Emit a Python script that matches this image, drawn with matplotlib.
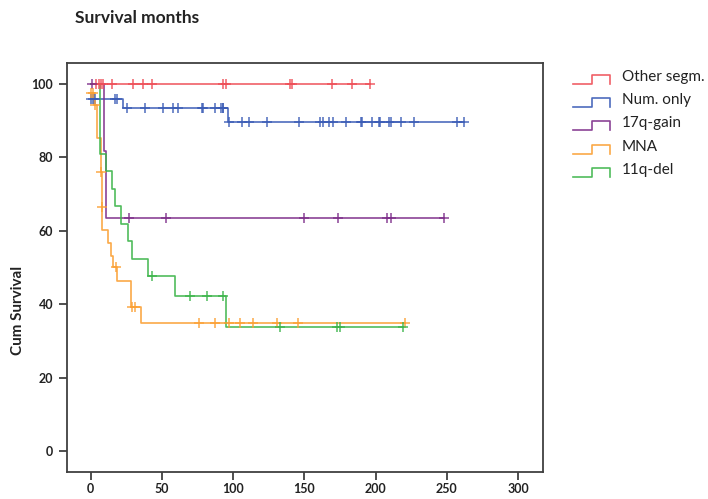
import numpy as np
import matplotlib
matplotlib.use("Agg")
import matplotlib.pyplot as plt

# Kaplan-Meier curves (months, cum survival %)
groups = ["Other segm.", "Num. only", "17q-gain", "MNA", "11q-del"]
colors = ["#EE4E57", "#3B5CB6", "#7E2E8A", "#FBA034", "#3DB54B"]

other_t = [0]
other_s = [100]
other_end = 196.3
other_cens = [3.6, 6.0, 7.2, 8.6, 14.9, 30.0, 36.8, 42.9, 93.2, 94.9,
              140.0, 141.6, 169.7, 183.7, 196.3]

num_t = [0, 23.0, 96.7]
num_s = [95.9, 93.5, 89.7]
num_end = 262.1
num_cens = [0, 1.5, 3.2, 17.2, 18.8, 25.4, 38.2, 50.7, 58.1, 61.6, 78.0, 79.2,
            87.4, 91.4, 92.8, 93.2, 97.4, 106.1, 111.2, 123.6, 146.5, 161.1,
            163.4, 167.6, 170.4, 179.1, 189.6, 190.7, 197.3, 202.5, 203.2,
            209.7, 210.7, 217.7, 227.2, 257.0, 262.1]

gain17_t = [0, 9.6, 10.7]
gain17_s = [100, 81.8, 63.6]
gain17_end = 248.3
gain17_cens = [0.8, 27.0, 53.0, 149.6, 173.8, 208.2, 210.8, 248.3]

mna_t = [0, 2.6, 4.2, 7.6, 7.8, 8.0, 12.1, 14.5, 15.6, 18.4, 28.5, 35.5]
mna_s = [97.5, 94.3, 85.2, 76.1, 66.6, 60.2, 56.6, 53.1, 50.1, 46.4, 39.3, 34.8]
mna_end = 221.0
mna_cens = [0, 2.0, 3.2, 7.7, 7.9, 18.0, 28.8, 31.5, 75.9, 87.5, 96.9, 104.8,
            113.7, 131.2, 145.9, 221.0]

del11_t = [0, 6.7, 11.2, 14.9, 17.2, 21.2, 26.5, 29.3, 40.4, 59.3, 95.1]
del11_s = [100, 81.0, 76.2, 71.4, 66.7, 61.9, 57.1, 52.4, 47.6, 42.3, 33.9]
del11_end = 219.1
del11_cens = [42.9, 69.8, 81.5, 93.2, 133.0, 172.8, 175.1, 219.1]

curves = [
    (other_t, other_s, other_end, other_cens),
    (num_t, num_s, num_end, num_cens),
    (gain17_t, gain17_s, gain17_end, gain17_cens),
    (mna_t, mna_s, mna_end, mna_cens),
    (del11_t, del11_s, del11_end, del11_cens),
]

W, H = 708, 499
fig = plt.figure(figsize=(W / 100, H / 100), dpi=100)
ax = fig.add_axes([67 / W, 1 - 472 / H, (543 - 67) / W, (472 - 63) / H])

for (t, s, end, cens), col in zip(curves, colors):
    t = np.array(t + [end], dtype=float)
    s = np.array(s + [s[-1]], dtype=float)
    ax.step(t, s, where="post", color=col, lw=1.2, alpha=0.9, zorder=3)
    c = np.array(cens, dtype=float)
    idx = np.searchsorted(t[:-1], c, side="right") - 1
    ax.plot(c, s[idx], ls="none", marker="+", ms=7, mew=1.1,
            color=col, alpha=0.9, zorder=4)

ax.set_xlim(-16.5, 317.5)
ax.set_ylim(-5.7, 105.7)
ax.set_xticks([0, 50, 100, 150, 200, 250, 300])
ax.set_yticks([0, 20, 40, 60, 80, 100])
for sp in ax.spines.values():
    sp.set_color("#404040")
    sp.set_linewidth(1.3)
ax.tick_params(direction="out", length=6, width=1.3, color="#404040",
               labelsize=9, pad=4, labelcolor="#222222")
ax.tick_params(axis="x", pad=2)
for lab in ax.get_xticklabels() + ax.get_yticklabels():
    lab.set_fontweight("bold")
    lab.set_family("Lato")

fig.text(75 / W, 1 - 18 / H, "Survival months", fontsize=12.5,
         fontweight="bold", family="Lato", va="center", ha="left",
         color="#222222")
fig.text(18 / W, 1 - 310 / H, "Cum Survival", fontsize=11, rotation=90,
         fontweight="bold", family="Lato", va="center", ha="center",
         color="#222222")

# legend with step-shaped keys
for i, (name, col) in enumerate(zip(groups, colors)):
    yc = 76.5 + i * 23.4
    lo, hi = yc + 7, yc - 2
    xs = np.array([573, 592, 592, 610, 610]) / W
    ys = 1 - np.array([lo, lo, hi, hi, lo]) / H
    fig.add_artist(plt.Line2D(xs, ys, color=col, lw=1.2, alpha=0.9,
                              transform=fig.transFigure))
    fig.text(622 / W, 1 - yc / H, name, fontsize=11, family="Lato",
             va="center", ha="left", color="#222222")

fig.savefig("out.png", dpi=100)
